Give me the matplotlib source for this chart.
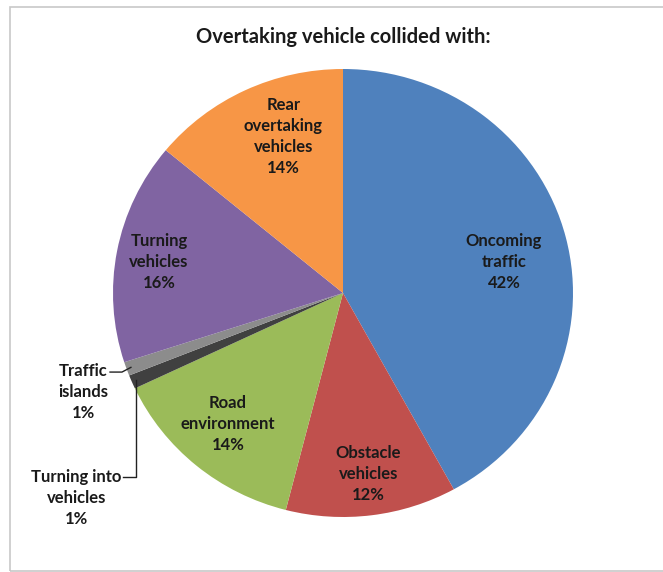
"""Pie chart: what the overtaking vehicle collided with."""

import numpy as np
import matplotlib
matplotlib.use("Agg")
import matplotlib.pyplot as plt
from matplotlib.patches import Rectangle

OUT_FIG = "out.png"

TITLE = "Overtaking vehicle collided with:"

# clockwise from 12 o'clock
CATEGORIES = [
    "Oncoming\ntraffic",
    "Obstacle\nvehicles",
    "Road\nenvironment",
    "Turning into\nvehicles",
    "Traffic\nislands",
    "Turning\nvehicles",
    "Rear\novertaking\nvehicles",
]
SHARES = [42, 12, 14, 1, 1, 16, 14]
COLORS = ["#4f81bd", "#c0504d", "#9bbb59", "#404040", "#8c8c8c", "#8064a2", "#f79646"]

# label centres in pie units (x / rx, y / ry)
LABEL_POS = {
    0: (0.70, 0.14),
    1: (0.11, -0.81),
    2: (-0.50, -0.585),
    3: (-1.16, -0.915),
    4: (-1.13, -0.44),
    5: (-0.80, 0.14),
    6: (-0.26, 0.70),
}

W, H = 663, 572
CX, CY, RX, RY = 343, 293, 230, 224


def main():
    plt.rcParams["font.family"] = ["Lato", "DejaVu Sans"]
    fig = plt.figure(figsize=(W / 100, H / 100), dpi=100)
    ax = fig.add_axes([(CX - RX) / W, (H - CY - RY) / H, 2 * RX / W, 2 * RY / H])

    wedges, _ = ax.pie(
        SHARES,
        colors=COLORS,
        startangle=90,
        counterclock=False,
        radius=1.0,
        wedgeprops={"linewidth": 0},
    )
    ax.set_xlim(-1, 1)
    ax.set_ylim(-1, 1)
    ax.set_aspect("auto")
    ax.axis("off")

    txt = dict(ha="center", va="center", fontsize=12, fontweight="bold",
               color="#1a1a1a", linespacing=1.38)
    for i, (x, y) in LABEL_POS.items():
        ax.text(x, y, f"{CATEGORIES[i]}\n{SHARES[i]}%", **txt)

    def edge_point(i, r=1.0):
        w = wedges[i]
        ang = np.deg2rad((w.theta1 + w.theta2) / 2)
        return r * np.cos(ang), r * np.sin(ang)

    # leader lines for the two 1% slices
    ex, ey = edge_point(4, 0.98)
    ax.plot([-1.013, -0.961, ex], [-0.353, -0.353, ey],
            color="#222222", lw=1.0, clip_on=False)

    ex, ey = edge_point(3, 0.98)
    ax.plot([-0.957, ex, ex], [-0.821, -0.821, ey],
            color="#222222", lw=1.0, clip_on=False)

    fig.text(CX / W, 1 - 37 / H, TITLE, ha="center", va="center",
             fontsize=14.5, fontweight="bold", color="#1a1a1a")

    fig.patches.append(Rectangle((10 / W, 1 / H), 1.0, 1 - 8 / H, transform=fig.transFigure,
                                 fill=False, edgecolor="#c8c8c8", lw=1.2))

    fig.savefig(OUT_FIG, dpi=100)
    plt.close(fig)


if __name__ == "__main__":
    main()
